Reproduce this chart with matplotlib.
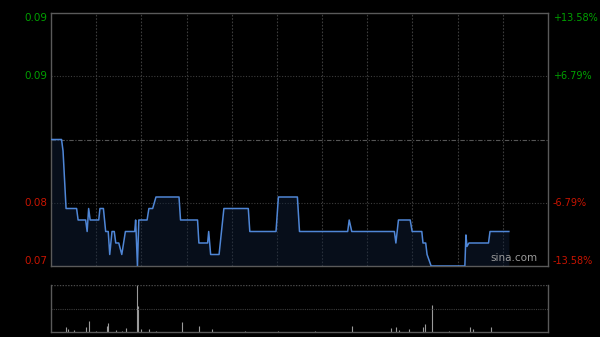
import numpy as np
import matplotlib
matplotlib.use('Agg')
import matplotlib.pyplot as plt

# price breakpoints: minute of session (0..330) -> price
price_min = [0, 7, 8, 10, 17, 18, 23, 24, 25, 26, 31.7, 32.5, 34.8, 36.3, 38, 39, 40.5,
             42, 43, 45, 47, 49.4, 55.6, 56.2, 57.4, 58.3, 63.8, 65, 67.5, 69.7, 85, 86,
             97.3, 98.2, 104, 104.7, 106, 111.6, 113.2, 114.8, 131, 132, 149.4, 151,
             163.6, 165, 197, 198, 199.7, 228, 229, 230.7, 238.5, 239.8, 246.2, 247,
             248.8, 249.7, 252.4, 274.8, 275.5, 276.2, 277.5, 290.5, 291.5, 304]
price_val = [0.081, 0.081, 0.080, 0.075, 0.075, 0.074, 0.074, 0.073, 0.075, 0.074, 0.074, 0.075, 0.075, 0.073, 0.073, 0.071, 0.073,
             0.073, 0.072, 0.072, 0.071, 0.073, 0.073, 0.074, 0.070, 0.074, 0.074, 0.075, 0.075, 0.076, 0.076, 0.074,
             0.074, 0.072, 0.072, 0.073, 0.071, 0.071, 0.073, 0.075, 0.075, 0.073, 0.073, 0.076,
             0.076, 0.073, 0.073, 0.074, 0.073, 0.073, 0.072, 0.074, 0.074, 0.073, 0.073, 0.072,
             0.072, 0.071, 0.070, 0.070, 0.0727, 0.0717, 0.072, 0.072, 0.073, 0.073]

# volume bars: minute -> volume (relative)
vol_min = [3, 6, 10, 11, 15, 19, 23, 25, 30, 33, 37, 38, 43, 47, 50, 57, 58, 60, 65, 70, 80,
           87, 98, 107, 118, 129, 140, 151, 175, 190, 200, 212, 220, 226, 229, 231, 238,
           247, 248, 253, 264, 270, 278, 280, 285, 292, 300]
vol_val = [1, 1, 11, 6, 4, 1, 10, 23, 2, 1, 13, 19, 4, 2, 9, 100, 55, 7, 7, 3, 1,
           21, 13, 6, 1, 3, 1, 3, 3, 1, 13, 1, 1, 9, 11, 4, 6,
           10, 17, 57, 3, 1, 11, 6, 1, 11, 1]

prev_close = 0.081
pct = 0.1358
left_labels = ['0.09', '0.09', '0.08', '0.07']
right_labels = ['+13.58%', '+6.79%', '-6.79%', '-13.58%']

bg = '#000000'
grid_c = '#3c3c3c'
frame_c = '#5a5a5a'

fig = plt.figure(figsize=(6.0, 3.37), dpi=100, facecolor=bg)
ax = fig.add_axes([51/600, 71/337, 497/600, 253/337], facecolor=bg)
axv = fig.add_axes([51/600, 5/337, 497/600, 47/337], facecolor=bg)

lo = prev_close*(1-pct)
hi = prev_close*(1+pct)
ax.set_xlim(0, 330)
ax.set_ylim(lo, hi)

# vertical grid every 30 minutes
for k in range(1, 11):
    ax.axvline(30*k, color=grid_c, lw=0.8, ls=(0, (1.5, 1.5)), zorder=1)
for f in (0.5*pct, -0.5*pct):
    ax.axhline(prev_close*(1+f), color=grid_c, lw=0.8, ls=(0, (1, 1.5)), zorder=1)
ax.axhline(prev_close, color='#555555', lw=0.8, ls=(0, (4, 1.5, 1, 1.5)), zorder=1)

ax.fill_between(price_min, price_val, lo, color='#10203a', alpha=0.45, lw=0, zorder=2)
ax.plot(price_min, price_val, color='#4f86d6', lw=1.1, zorder=3)

for s in ax.spines.values():
    s.set_color(frame_c)
    s.set_linewidth(1.0)
ax.set_xticks([])
ax.set_yticks([])

levels = [hi, prev_close*(1+0.5*pct), prev_close*(1-0.5*pct), lo]
vas = ['top', 'center', 'center', 'bottom']
colors = ['#00a000', '#00a000', '#c81400', '#c81400']
for lv, va, c, ltxt, rtxt in zip(levels, vas, colors, left_labels, right_labels):
    ax.annotate(ltxt, xy=(0, lv), xycoords=ax.get_yaxis_transform(),
                xytext=(-2.5, 0), textcoords='offset points', ha='right', va=va,
                color=c, fontsize=7.5, annotation_clip=False)
    ax.annotate(rtxt, xy=(1, lv), xycoords=ax.get_yaxis_transform(),
                xytext=(3.5, 0), textcoords='offset points', ha='left', va=va,
                color=c, fontsize=7, annotation_clip=False)

ax.text(0.978, 0.012, 'sina.com', transform=ax.transAxes, ha='right', va='bottom',
        color='#9a9a9a', fontsize=7.5, zorder=4)

# volume panel
axv.set_xlim(0, 330)
axv.set_ylim(0, 100)
axv.vlines(vol_min, 0, vol_val, color='#9a9a9a', lw=0.8)
axv.axhline(50, color=grid_c, lw=0.8, ls=(0, (1, 1)))
axv.axhline(100, color='#4a4a4a', lw=1.0, ls=(0, (1, 1)))
axv.spines['top'].set_visible(False)
for name in ('left', 'right', 'bottom'):
    axv.spines[name].set_color(frame_c)
    axv.spines[name].set_linewidth(1.0)
axv.set_xticks([])
axv.set_yticks([])

fig.savefig('out.png', dpi=100, facecolor=bg)
